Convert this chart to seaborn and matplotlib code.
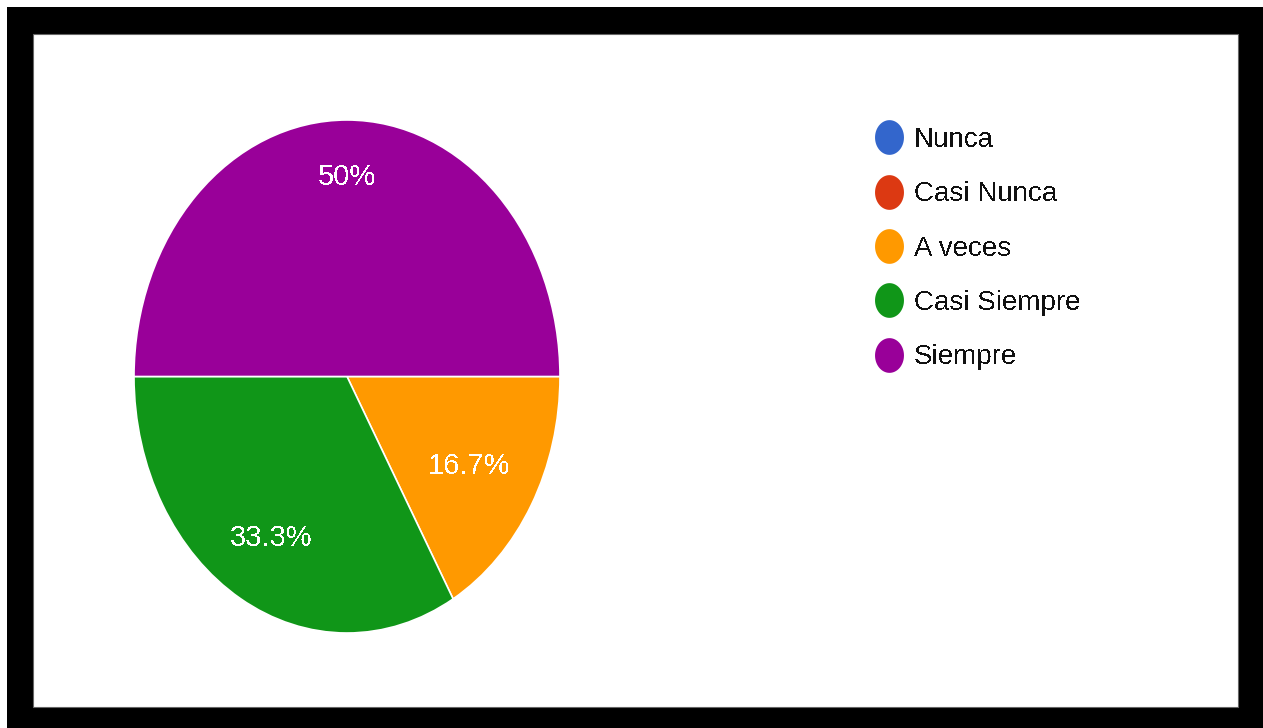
import numpy as np
import matplotlib
matplotlib.use("Agg")
import matplotlib.pyplot as plt
from matplotlib.patches import Rectangle
from matplotlib.lines import Line2D
from matplotlib.path import Path
from matplotlib.transforms import offset_copy
import seaborn as sns

# Survey responses (share of answers, %)
categories = ["Nunca", "Casi Nunca", "A veces", "Casi Siempre", "Siempre"]
shares = [0, 0, 16.7, 33.3, 50]
slice_colors = ["#3366CC", "#DC3912", "#FF9900", "#109618", "#990099"]

sns.set_theme(style="white")
plt.rcParams["text.antialiased"] = False
palette = sns.color_palette(slice_colors)

W, H = 1263, 728
fig = plt.figure(figsize=(W / 100, H / 100), dpi=100)
fig.patch.set_facecolor("white")

# thick black frame around a white card
fig.patches.append(Rectangle((7 / W, 0), 1 - 7 / W, (H - 7) / H,
                             transform=fig.transFigure, facecolor="black",
                             edgecolor="none", zorder=-2))
fig.patches.append(Rectangle((33 / W, (H - 707) / H), (1238 - 33) / W, (707 - 34) / H,
                             transform=fig.transFigure, facecolor="white",
                             edgecolor="#666666", linewidth=0.8, zorder=-1))

# pie axes (stretched vertically, as in the exported chart)
ax = fig.add_axes([134 / W, (H - 633) / H, 426 / W, 513 / H])
ax.set_facecolor("none")
ax.set_zorder(2)
wedges, _ = ax.pie(shares, colors=palette, startangle=0, counterclock=False,
                   wedgeprops=dict(edgecolor="white", linewidth=1.2))
ax.set_aspect("auto")
ax.set_xlim(-1, 1)
ax.set_ylim(-1, 1)
ax.axis("off")

# percentage labels inside the slices
label_radius = {2: 0.664, 3: 0.708, 4: 0.794}
label_tf = offset_copy(ax.transData, fig=fig, y=-4.5, units="dots")
for i, (w, v) in enumerate(zip(wedges, shares)):
    if v <= 0:
        continue
    ang = np.deg2rad((w.theta1 + w.theta2) / 2)
    r = label_radius.get(i, 0.7)
    ax.text(r * np.cos(ang), r * np.sin(ang), f"{v:g}%", transform=label_tf,
            ha="center", va="center", color="white", fontsize=21,
            family=["Liberation Sans", "DejaVu Sans"])

# legend with oval dot markers
t = np.linspace(0, 2 * np.pi, 64)
oval = Path(np.column_stack([np.cos(t), 1.2 * np.sin(t)]))
handles = [Line2D([], [], linestyle="none", marker=oval, markersize=25,
                  markerfacecolor=c, markeredgecolor="none")
           for c in palette]
leg = fig.legend(handles, categories, loc="upper left",
                 bbox_to_anchor=(875 / W, 1 - 127 / H), frameon=False,
                 borderpad=0, borderaxespad=0, handlelength=1.0,
                 handletextpad=0.40, labelspacing=1.02,
                 prop={"family": ["Liberation Sans", "DejaVu Sans"], "size": 20})
for txt in leg.get_texts():
    txt.set_color("#111111")

fig.savefig("out.png", dpi=100)
